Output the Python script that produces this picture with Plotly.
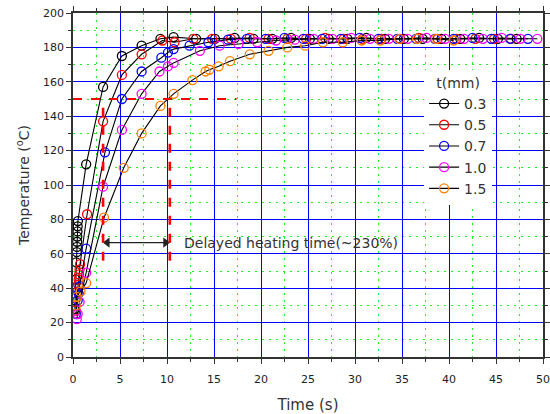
import plotly.graph_objects as go

# Heating curves: time (s) vs temperature (°C) for several thicknesses t (mm)
t_03 = [0.2, 0.3, 0.35, 0.4, 0.42, 0.44, 0.46, 0.48, 0.5, 0.52, 1.4, 3.2, 5.2, 7.3, 9.3, 10.7,
        13.1, 15.1, 17.2, 19.2, 21.2, 23.2, 25.2, 27.2, 29.2, 31.2, 33.2, 35.2, 37.2, 39.2,
        41.2, 43.2, 45.2, 47.2]
temp_03 = [28, 45, 55, 61, 64, 67, 70, 73, 76, 79, 112, 157, 175, 181, 185, 186,
           185, 185, 185.5, 185, 185, 185.5, 185, 185, 185, 185.5, 185, 185, 185, 185,
           185, 185.5, 185, 185]

t_05 = [0.3, 0.5, 0.55, 0.6, 0.65, 0.7, 0.75, 1.5, 3.2, 5.2, 7.3, 9.5, 10.8, 12.8, 14.8,
        16.8, 18.8, 20.8, 22.8, 24.8, 26.8, 28.8, 30.8, 32.8, 34.8, 36.8, 38.8, 40.8, 42.8,
        44.8, 46.6]
temp_05 = [27, 38, 42, 45, 48, 51, 54, 83, 137, 164, 176, 184, 183, 185, 185,
           185, 185.5, 185, 185, 185, 185.5, 185, 185, 185, 185, 185.5, 185, 185, 185,
           185, 185]

t_07 = [0.3, 0.5, 0.6, 0.7, 1.4, 3.4, 5.2, 7.3, 9.4, 10.1, 10.7, 12.4, 14.4, 16.5, 18.5,
        20.5, 22.5, 24.5, 26.5, 28.5, 30.5, 32.5, 34.5, 36.5, 38.5, 40.5, 42.5, 44.5, 46.5,
        48.4]
temp_07 = [25, 33, 37, 41, 63, 119, 150, 166, 174, 177, 179, 181, 183, 184.5, 185,
           185, 185.5, 185, 185, 185, 185.5, 185, 185, 185, 185, 185, 185.5, 185, 185,
           185]

t_10 = [0.4, 0.5, 0.7, 1.4, 3.2, 5.2, 7.3, 9.2, 10.1, 10.7, 13.5, 15.6, 17.6, 19.6, 21.6,
        23.6, 25.6, 27.6, 29.6, 31.6, 33.6, 35.6, 37.6, 39.6, 41.6, 43.6, 45.6, 47.6, 49.4]
temp_10 = [22, 25, 32, 49, 99, 132, 153, 166, 169, 171, 178, 181, 182, 183, 184,
           184.5, 185, 185, 185.5, 185, 185, 185, 185.5, 185, 185, 185, 185.5, 185, 185]

t_15 = [0.3, 0.4, 0.8, 1.4, 3.3, 5.4, 7.3, 9.3, 10.7, 12.7, 14.1, 14.5, 15.5, 16.7, 18.8,
        20.8, 22.8, 24.7, 26.6, 28.7, 30.7, 32.7, 34.7, 36.6, 38.6, 40.5]
temp_15 = [30, 35, 38, 43, 81, 110, 130, 146, 153, 161, 166, 167, 169, 172, 176,
           178, 180, 181, 183, 183, 184, 184, 185, 185, 185, 184]

series = [
    ("0.3", t_03, temp_03, "#000000"),
    ("0.5", t_05, temp_05, "#ff0000"),
    ("0.7", t_07, temp_07, "#0000ff"),
    ("1.0", t_10, temp_10, "#ff00ff"),
    ("1.5", t_15, temp_15, "#ff8000"),
]

# Reference level and delay markers
target_temp = 150
t_thin = 3.2
t_thick = 10.3
delay_base = 56
arrow_level = 66.5
delay_label = "Delayed heating time(~230%)"

FONT = "DejaVu Sans"

fig = go.Figure()
for name, tx, ty, col in series:
    fig.add_trace(go.Scatter(
        x=tx, y=ty, name=name, mode="lines+markers",
        line=dict(color="black", width=1.1),
        marker=dict(symbol="circle-open", size=9, color=col, line=dict(width=1.3, color=col)),
    ))

# dashed red guides
fig.add_shape(type="line", x0=0, x1=17.4, y0=target_temp, y1=target_temp,
              line=dict(color="red", width=1.8, dash="dash"))
for tv in (t_thin, t_thick):
    fig.add_shape(type="line", x0=tv, x1=tv, y0=delay_base, y1=target_temp,
                  line=dict(color="red", width=2.6, dash="dash"))

# double-headed arrow between the two guides
fig.add_trace(go.Scatter(
    x=[t_thin + 0.45, t_thick - 0.45], y=[arrow_level, arrow_level],
    mode="lines+markers", showlegend=False, hoverinfo="skip",
    line=dict(color="#222", width=1.3),
    marker=dict(symbol=["triangle-left", "triangle-right"], size=9, color="#222"),
))
fig.add_annotation(x=11.6, y=arrow_level, xref="x", yref="y", text=delay_label,
                   showarrow=False, xanchor="left", yanchor="middle",
                   font=dict(family=FONT, size=14, color="#333"))

axis_common = dict(
    showline=True, linecolor="#333", linewidth=1.5, mirror="ticks",
    ticks="outside", ticklen=5, tickwidth=1.2, tickcolor="#333",
    showgrid=True, gridcolor="#0000ff", gridwidth=1.2, zeroline=False,
    tickfont=dict(family=FONT, size=11, color="#222"),
    automargin=False,
)
minor_grid = dict(ticks="outside", ticklen=3, tickcolor="#333",
                  showgrid=True, gridcolor="#22ee22", griddash="2px,5px", gridwidth=1)

fig.update_xaxes(
    range=[0, 50], dtick=5, tick0=0, **axis_common,
    ticklabelstandoff=6,
    minor=dict(dtick=2.5, **minor_grid),
    title=dict(text="Time (s)", font=dict(family=FONT, size=15, color="#333"), standoff=18),
)
fig.update_yaxes(
    range=[0, 200], dtick=20, tick0=0, **axis_common,
    minor=dict(dtick=10, **minor_grid),
    title=dict(text="Temperature (<sup>o</sup>C)", font=dict(family=FONT, size=14, color="#333"),
               standoff=10),
)

fig.update_layout(
    width=550, height=414,
    margin=dict(l=73, r=7, t=13, b=57, autoexpand=False),
    paper_bgcolor="white", plot_bgcolor="white",
    showlegend=True,
    legend=dict(
        x=0.747, y=0.835, xanchor="left", yanchor="top",
        bgcolor="white", borderwidth=0,
        title=dict(text="t(mm)", font=dict(family=FONT, size=14, color="#333"), side="top center"),
        font=dict(family=FONT, size=14, color="#333"),
        itemwidth=30, tracegroupgap=0,
    ),
)

fig.write_html("out.html")
